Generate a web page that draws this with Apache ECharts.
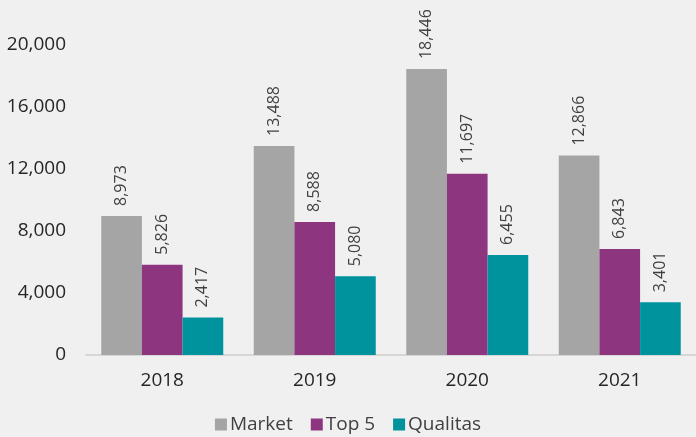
<!DOCTYPE html>
<html><head><meta charset="utf-8">
<script src="https://cdn.jsdelivr.net/npm/echarts@6/dist/echarts.min.js"></script>
<style>html,body{margin:0;padding:0;background:#f0f0f0;}#c{width:696px;height:437px;}</style>
</head><body><div id="c"></div>
<script>
const categories = ['2018', '2019', '2020', '2021'];
const market = [8973, 13488, 18446, 12866];
const top5 = [5826, 8588, 11697, 6843];
const qualitas = [2417, 5080, 6455, 3401];
const yTicks = [0, 4000, 8000, 12000, 16000, 20000];

const font = '"Open Sans", "DejaVu Sans", sans-serif';
const fmt = v => v.toLocaleString('en-US');
const lbl = {
  show: true, position: 'top', rotate: 90, align: 'left', verticalAlign: 'middle',
  distance: 10, color: '#404040', fontSize: 16, fontFamily: font,
  formatter: p => fmt(p.value)
};
const chart = echarts.init(document.getElementById('c'));
chart.setOption({
  backgroundColor: '#f0f0f0',
  animation: false,
  grid: { left: 86, right: 0, top: 45, bottom: 82 },
  legend: {
    top: 410, left: 'center', itemWidth: 12, itemHeight: 12, itemGap: 18,
    icon: 'rect',
    textStyle: { color: '#404040', fontSize: 19, fontFamily: font, padding: [0, 0, 0, -2] },
    data: ['Market', 'Top 5', 'Qualitas']
  },
  xAxis: {
    type: 'category', data: categories,
    axisLine: { lineStyle: { color: '#d6d6d6', width: 2 } },
    axisTick: { show: false },
    axisLabel: { color: '#262626', fontSize: 19, fontFamily: font, margin: 16 }
  },
  yAxis: {
    type: 'value', min: yTicks[0], max: yTicks[yTicks.length - 1], interval: 4000,
    splitLine: { show: false },
    axisLabel: { color: '#262626', fontSize: 19, fontFamily: font, margin: 20, formatter: v => fmt(v) }
  },
  series: [
    { name: 'Market', type: 'bar', data: market, itemStyle: { color: '#a5a5a5' }, barGap: '0%', barCategoryGap: '20%', label: lbl },
    { name: 'Top 5', type: 'bar', data: top5, itemStyle: { color: '#8e357f' }, label: lbl },
    { name: 'Qualitas', type: 'bar', data: qualitas, itemStyle: { color: '#00939e' }, label: lbl }
  ]
});
</script></body></html>
